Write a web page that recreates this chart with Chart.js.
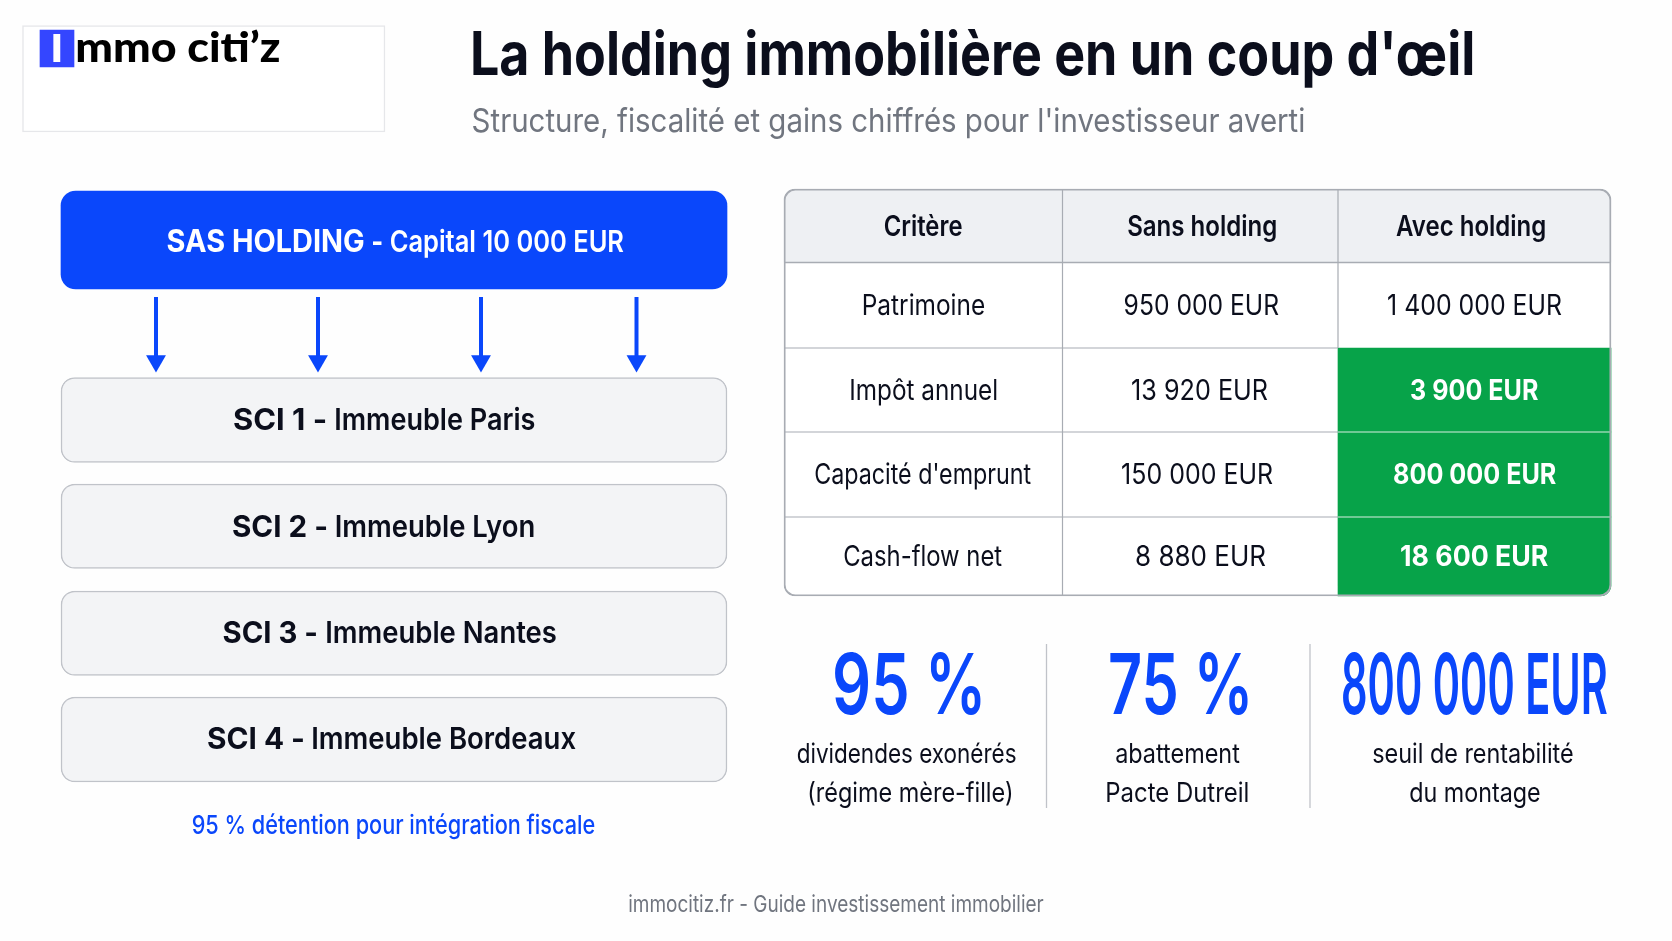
<!DOCTYPE html>
<html lang="fr">
<head>
<meta charset="utf-8">
<title>La holding immobilière en un coup d'œil</title>
<script src="https://cdn.jsdelivr.net/npm/chart.js@4/dist/chart.umd.min.js"></script>
<style>
html,body{margin:0;padding:0;background:#fefefe;overflow:hidden}
canvas{display:block}
</style>
</head>
<body>
<canvas id="c" width="1672" height="941"></canvas>
<script>
// ---------- content ----------
const logoInitial = "I";
const logoRest = "mmo citi’z";
const titleText = "La holding immobilière en un coup d'œil";
const subtitleText = "Structure, fiscalité et gains chiffrés pour l'investisseur averti";
const holdingName = "SAS HOLDING";
const holdingCapital = "Capital 10 000 EUR";
const sciNames = ["SCI 1 -", "SCI 2 -", "SCI 3 -", "SCI 4 -"];
const sciBuildings = ["Immeuble Paris", "Immeuble Lyon", "Immeuble Nantes", "Immeuble Bordeaux"];
const detentionNote = "95 % détention pour intégration fiscale";
const tableHeaders = ["Critère", "Sans holding", "Avec holding"];
const criteria = ["Patrimoine", "Impôt annuel", "Capacité d'emprunt", "Cash-flow net"];
const sansHolding = ["950 000 EUR", "13 920 EUR", "150 000 EUR", "8 880 EUR"];
const avecHolding = ["1 400 000 EUR", "3 900 EUR", "800 000 EUR", "18 600 EUR"];
const kpiValues = ["95 %", "75 %", "800 000 EUR"];
const kpiLine1 = ["dividendes exonérés", "abattement", "seuil de rentabilité"];
const kpiLine2 = ["(régime mère-fille)", "Pacte Dutreil", "du montage"];
const footerText = "immocitiz.fr - Guide investissement immobilier";

// ---------- layout (scale units equal page pixels) ----------
const BLUE = "#0a47fb", INK = "#0b0e1c", GREY = "#70757f", GREEN = "#07a349";
const LINE = "#a8acb3", PANEL = "#f3f4f6", PANEL_EDGE = "#c0c3c9";
const orgLeft = 61, orgRight = 727;
const holdingTop = 191, holdingBottom = 289;
const sciTops = [377.5, 484, 591, 697];
const sciBottoms = [462.5, 568.5, 675.5, 782];
const arrowX = [156, 318, 481, 636.5];
const arrowTop = 297, arrowTip = 372.5, arrowRadius = 11.5;
const colEdges = [784, 1062.5, 1338, 1611];
const rowEdges = [189, 262.5, 348, 432, 517, 596];
const sepX = [1046.5, 1310];
const sepTop = 644, sepBottom = 808;

const datasets = [];
let order = 1000;
function box(label, l, r, t, b, fill, edge, edgeW, radius) {
  datasets.push({
    type: "bar", label, order: order--, grouped: false,
    data: [{ x: [l, r], y: (t + b) / 2 }],
    barThickness: b - t, backgroundColor: fill, borderColor: edge,
    borderWidth: edgeW, borderRadius: radius, borderSkipped: false
  });
}
function segment(label, x0, y0, x1, y1, color, width) {
  datasets.push({
    type: "scatter", label, order: order--, showLine: true,
    data: [{ x: x0, y: y0 }, { x: x1, y: y1 }],
    borderColor: color, borderWidth: width, pointRadius: 0, tension: 0
  });
}

// logo
box("logo frame", 22.5, 385, 25.5, 132, "#ffffff", "#e6e7ea", 1.5, 0);
box("logo mark", 40, 74, 30, 67, "#3446ff", "#3446ff", 0, 0);
// organisation
box(holdingName, orgLeft, orgRight, holdingTop, holdingBottom, BLUE, BLUE, 0, 15);
sciNames.forEach((n, i) => box(n, orgLeft, orgRight, sciTops[i], sciBottoms[i], PANEL, PANEL_EDGE, 1.5, 14));
arrowX.forEach((x, i) => {
  segment("lien " + sciNames[i], x, arrowTop, x, arrowTip - 14, BLUE, 4);
  datasets.push({
    type: "scatter", label: "flèche " + sciNames[i], order: order--,
    data: [{ x, y: arrowTip - arrowRadius }],
    pointStyle: "triangle", pointRotation: 180, pointRadius: arrowRadius,
    backgroundColor: BLUE, borderColor: BLUE, borderWidth: 0
  });
});
// table cells
const R = 11;
box("en-tête", colEdges[0], colEdges[3], rowEdges[0], rowEdges[1], "#eef0f3", "#eef0f3", 0,
    { topLeft: R, topRight: R, bottomLeft: 0, bottomRight: 0 });
box("corps", colEdges[0], colEdges[3], rowEdges[1], rowEdges[5], "#ffffff", "#ffffff", 0,
    { topLeft: 0, topRight: 0, bottomLeft: R, bottomRight: R });
[2, 3, 4].forEach(r => box("gain " + criteria[r - 1], colEdges[2], colEdges[3], rowEdges[r], rowEdges[r + 1], GREEN, GREEN, 0,
    { topLeft: 0, topRight: 0, bottomLeft: 0, bottomRight: r === 4 ? R : 0 }));
[1, 2, 3, 4].forEach(r => {
  segment("ligne", colEdges[0], rowEdges[r], colEdges[r >= 2 ? 2 : 3], rowEdges[r], LINE, r === 1 ? 1.6 : 1.2);
  if (r >= 3) segment("ligne verte", colEdges[2], rowEdges[r], colEdges[3], rowEdges[r], "#d8efe1", 1.2);
});
segment("colonne", colEdges[2], rowEdges[0], colEdges[2], rowEdges[2], LINE, 1.2);
segment("colonne", colEdges[1], rowEdges[0], colEdges[1], rowEdges[5], LINE, 1.2);
box("cadre", colEdges[0], colEdges[3], rowEdges[0], rowEdges[5], "rgba(0,0,0,0)", LINE, 1.2, R);
// KPI separators
sepX.forEach(x => segment("séparateur", x, sepTop, x, sepBottom, PANEL_EDGE, 1.3));

// ---------- text placement: [text, left, right, baseline, size, weight, colour, family] ----------
const F = "Inter", L = "Lato";
const texts = [
  [logoInitial, 52.5, 61, 62, 37, 900, "#ffffff", L],
  [logoRest, 77.5, 279.5, 62, 41, 900, "#000000", L],
  [titleText, 472.5, 1472.5, 75, 60, 700, INK, F],
  [subtitleText, 472.5, 1304.5, 132, 33, 400, GREY, F],
  [holdingName, 167.5, 363.5, 252, 31, 700, "#ffffff", F],
  ["-", 373, 381.5, 252, 30, 700, "#ffffff", F],
  [holdingCapital, 390.5, 623.5, 252, 30, 600, "#ffffff", F],
  [sciNames[0], 234, 325, 430, 30, 700, INK, F],
  [sciBuildings[0], 336, 535, 430, 30, 600, INK, F],
  [sciNames[1], 233, 326, 537, 30, 700, INK, F],
  [sciBuildings[1], 336.5, 534, 537, 30, 600, INK, F],
  [sciNames[2], 223.5, 316, 643, 30, 700, INK, F],
  [sciBuildings[2], 327, 556.5, 643, 30, 600, INK, F],
  [sciNames[3], 208, 303, 749, 30, 700, INK, F],
  [sciBuildings[3], 313, 576, 749, 30, 600, INK, F],
  [detentionNote, 192.5, 595, 834, 26, 500, BLUE, F],
  [tableHeaders[0], 884.5, 962, 236, 28, 600, INK, F],
  [tableHeaders[1], 1128, 1276, 236, 28, 600, INK, F],
  [tableHeaders[2], 1396, 1545, 236, 28, 600, INK, F],
  [criteria[0], 863.5, 984, 315, 28, 400, INK, F],
  [criteria[1], 851, 996.5, 400, 28, 400, INK, F],
  [criteria[2], 815, 1031, 484, 28, 400, INK, F],
  [criteria[3], 844, 1002, 566, 28, 400, INK, F],
  [sansHolding[0], 1124.5, 1279, 315, 28, 400, INK, F],
  [sansHolding[1], 1132, 1268, 400, 28, 400, INK, F],
  [sansHolding[2], 1122, 1273, 484, 28, 400, INK, F],
  [sansHolding[3], 1136, 1266, 566, 28, 400, INK, F],
  [avecHolding[0], 1388, 1562, 315, 28, 400, INK, F],
  [avecHolding[1], 1411, 1538, 400, 28, 700, "#ffffff", F],
  [avecHolding[2], 1394, 1556, 484, 28, 700, "#ffffff", F],
  [avecHolding[3], 1401, 1548, 566, 28, 700, "#ffffff", F],
  [kpiValues[0], 835, 981, 714, 84, 600, BLUE, F],
  [kpiValues[1], 1110, 1248, 714, 84, 600, BLUE, F],
  [kpiValues[2], 1343, 1607, 714, 84, 600, BLUE, F],
  [kpiLine1[0], 797.5, 1015.5, 763, 27, 400, INK, F],
  [kpiLine2[0], 809, 1011, 802, 27, 400, INK, F],
  [kpiLine1[1], 1116, 1240, 763, 27, 400, INK, F],
  [kpiLine2[1], 1107, 1248, 802, 27, 400, INK, F],
  [kpiLine1[2], 1373, 1573, 763, 27, 400, INK, F],
  [kpiLine2[2], 1410, 1540, 802, 27, 400, INK, F],
  [footerText, 629, 1044, 912, 23, 400, GREY, F]
];

const textPlugin = {
  id: "texts",
  afterDatasetsDraw(chart) {
    const { ctx, scales: { x, y } } = chart;
    ctx.save();
    ctx.textAlign = "left";
    ctx.textBaseline = "alphabetic";
    texts.forEach(([s, l, r, b, size, weight, color, fam]) => {
      ctx.font = `${weight} ${size}px "${fam}", "Liberation Sans", sans-serif`;
      const px0 = x.getPixelForValue(l), px1 = x.getPixelForValue(r), py = y.getPixelForValue(b);
      const m = ctx.measureText(s);
      const ink = m.actualBoundingBoxLeft + m.actualBoundingBoxRight;
      const k = (px1 - px0) / ink;
      ctx.save();
      ctx.translate(px0 + m.actualBoundingBoxLeft * k, py);
      ctx.scale(k, 1);
      ctx.fillStyle = color;
      ctx.fillText(s, 0, 0);
      ctx.restore();
    });
    ctx.restore();
  }
};

new Chart(document.getElementById("c"), {
  type: "bar",
  data: { datasets },
  plugins: [textPlugin],
  options: {
    indexAxis: "y",
    responsive: false,
    animation: false,
    devicePixelRatio: 1,
    layout: { padding: 0, autoPadding: false },
    plugins: { legend: { display: false }, tooltip: { enabled: false }, title: { display: false } },
    scales: {
      x: { type: "linear", min: 0, max: 1672, display: false, offset: false },
      y: { type: "linear", min: 0, max: 941, reverse: true, display: false, offset: false }
    }
  }
});
</script>
</body>
</html>
